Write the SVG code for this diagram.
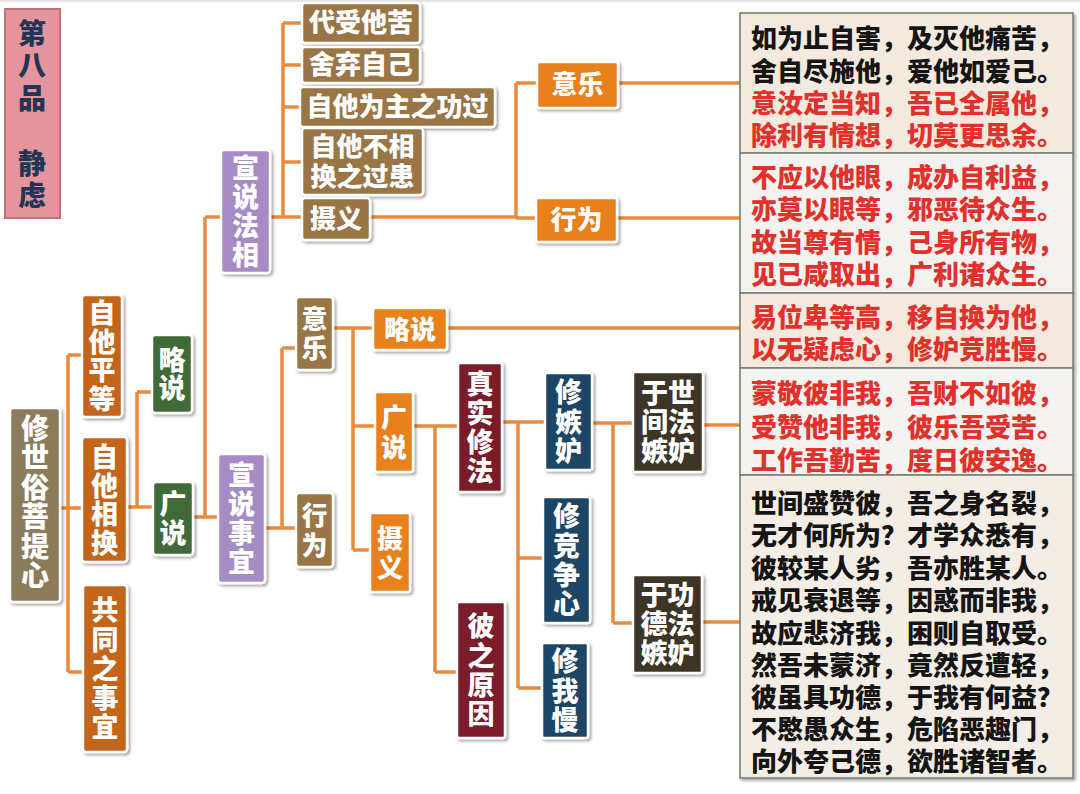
<svg xmlns="http://www.w3.org/2000/svg" width="1080" height="794" viewBox="0 0 1080 794">
<defs>
<filter id="sh" x="-20%" y="-20%" width="150%" height="150%">
<feDropShadow dx="2" dy="2" stdDeviation="1.8" flood-color="#000" flood-opacity="0.35"/>
</filter>
<style>
.n{stroke:#fff;stroke-width:2.5;filter:url(#sh)}
.t{font-family:"Noto Sans CJK SC","Noto Sans CJK JP",sans-serif;font-weight:900;font-size:27px;fill:#fff;text-anchor:middle}
.lf{font-family:"Liberation Sans","Noto Sans CJK SC",sans-serif}
.v{writing-mode:vertical-rl;text-anchor:start;letter-spacing:2px}
.h{font-size:26px}
.c{fill:none;stroke:#e98a3c;stroke-width:3.5;stroke-linejoin:round}
.p{stroke:#76826f;stroke-width:1.6}
.pt{font-family:"Liberation Sans","Noto Sans CJK SC",sans-serif;font-weight:900;font-size:26px}
.r{fill:#e2302a}
.k{fill:#151515}
.ol{fill:#8c7b5c}.bo{fill:#c4651c}.gr{fill:#3f6b38}.pu{fill:#a78bc5}.br{fill:#9a7646}.or{fill:#e8801e}.ma{fill:#7b1c2b}.nv{fill:#1d4566}.db{fill:#3e3627}
</style>
</defs>
<rect width="1080" height="794" fill="#fff"/>
<rect width="1080" height="2" fill="#e4e4e4"/>

<g id="connectors">
<path class="c" d="M60 508H68M68 355V672M68 355H82M68 508H82M68 672H83"/>
<path class="c" d="M127 507H137M137 392V507M137 392H152M137 507H153"/>
<path class="c" d="M193 517H205M205 217V517M205 217H221M205 517H218"/>
<path class="c" d="M270 217H283M283 23V217M283 23H302M283 65H302M283 107H300M283 162H302M283 217H302"/>
<path class="c" d="M370 217H516M516 83V218M516 83H537M516 218H536"/>
<path class="c" d="M618 83H740M617 218H740"/>
<path class="c" d="M265 528H282M282 348V528M282 348H296M282 528H296"/>
<path class="c" d="M333 328H353M353 328V550M353 328H373M353 426H375M353 550H370"/>
<path class="c" d="M447 328H740"/>
<path class="c" d="M413 426H458M435 426V672M435 672H457"/>
<path class="c" d="M502 422H545M518 422V688M518 558H543M518 688H542"/>
<path class="c" d="M592 423H633M613 423V623M613 623H633"/>
<path class="c" d="M703 425H740M702 622H740"/>
</g>

<g id="title">
<rect x="5" y="9" width="55" height="209" fill="#e6949c" stroke="#c8707a" stroke-width="2"/>
<text class="t v" style="fill:#213657;font-size:28px;letter-spacing:4.5px" x="32" y="19">第八品　静虑</text>
</g>

<g id="n-root"><rect class="n ol" x="10" y="408" width="50" height="194" rx="3"/>
<text class="t v" style="font-size:28px;letter-spacing:1.5px" x="35" y="414">修世俗菩提心</text></g>

<g id="n-zitapingdeng"><rect class="n bo" x="82" y="295" width="40" height="122" rx="3"/>
<text class="t v" style="letter-spacing:1.5px" x="102" y="299.5">自他平等</text></g>

<g id="n-zitaxianghuan"><rect class="n bo" x="82" y="437" width="45" height="125" rx="3"/>
<text class="t v" style="letter-spacing:1.5px" x="104.5" y="443.5">自他相换</text></g>

<g id="n-gongtong"><rect class="n bo" x="83" y="585" width="44" height="167" rx="3"/>
<text class="t v" style="letter-spacing:2.25px" x="105" y="596.5">共同之事宜</text></g>

<g id="n-lueshuo1"><rect class="n gr" x="152" y="335" width="40" height="78" rx="3"/>
<text class="t v" style="letter-spacing:1px" x="172" y="346.5">略说</text></g>

<g id="n-guangshuo1"><rect class="n gr" x="153" y="482" width="40" height="73" rx="3"/>
<text class="t v" x="173" y="490.5">广说</text></g>

<g id="n-faxiang"><rect class="n pu" x="221" y="150" width="49" height="123" rx="3"/>
<text class="t v" x="245.5" y="154.5">宣说法相</text></g>

<g id="n-shiyi"><rect class="n pu" x="218" y="454" width="47" height="129" rx="3"/>
<text class="t v" x="241.5" y="461.5">宣说事宜</text></g>

<g id="n-daishou"><rect class="n br" x="302" y="3" width="118" height="40" rx="3"/>
<text class="t h" x="361" y="32">代受他苦</text></g>
<g id="n-sheqi"><rect class="n br" x="302" y="47" width="118" height="36" rx="3"/>
<text class="t h" x="361" y="74">舍弃自己</text></g>
<g id="n-gongguo"><rect class="n br" x="300" y="87" width="195" height="40" rx="3"/>
<text class="t h" x="397.5" y="116">自他为主之功过</text></g>
<g id="n-guohuan"><rect class="n br" x="302" y="128" width="121" height="67" rx="3"/>
<text class="t h lf" x="362.5" y="156">自他不相</text><text class="t h lf" x="362.5" y="186">换之过患</text></g>
<g id="n-sheyi1"><rect class="n br" x="302" y="198" width="68" height="42" rx="3"/>
<text class="t h" x="336" y="228">摄义</text></g>

<g id="n-yile1"><rect class="n or" x="537" y="62" width="81" height="46" rx="2"/>
<text class="t h" x="577.5" y="94">意乐</text></g>
<g id="n-xingwei1"><rect class="n or" x="536" y="198" width="81" height="44" rx="2"/>
<text class="t h" x="576.5" y="229">行为</text></g>

<g id="n-yile2"><rect class="n br" x="296" y="297" width="37" height="73" rx="3"/>
<text class="t h v" style="letter-spacing:3px" x="314.5" y="306">意乐</text></g>
<g id="n-xingwei2"><rect class="n br" x="296" y="493" width="37" height="74" rx="3"/>
<text class="t h v" style="letter-spacing:4px" x="314.5" y="502">行为</text></g>

<g id="n-lueshuo2"><rect class="n or" x="373" y="308" width="74" height="42" rx="2"/>
<text class="t h" x="410" y="339">略说</text></g>
<g id="n-guangshuo2"><rect class="n or" x="375" y="392" width="38" height="80" rx="2"/>
<text class="t h v" style="letter-spacing:4px" x="394" y="404">广说</text></g>
<g id="n-sheyi2"><rect class="n or" x="370" y="513" width="40" height="79" rx="2"/>
<text class="t h v" style="letter-spacing:3px" x="390" y="525">摄义</text></g>

<g id="n-zhenshi"><rect class="n ma" x="458" y="363" width="44" height="129" rx="2"/>
<text class="t v" x="480" y="370.5">真实修法</text></g>
<g id="n-yuanyin"><rect class="n ma" x="457" y="602" width="48" height="136" rx="2"/>
<text class="t v" style="letter-spacing:2.3px" x="481" y="612.5">彼之原因</text></g>

<g id="n-jidu"><rect class="n nv" x="545" y="373" width="47" height="97" rx="2"/>
<text class="t v" style="letter-spacing:2.5px" x="568.5" y="378.5">修嫉妒</text></g>
<g id="n-jingzheng"><rect class="n nv" x="543" y="497" width="47" height="126" rx="2"/>
<text class="t v" style="letter-spacing:2.3px" x="566.5" y="502.5">修竞争心</text></g>
<g id="n-woman"><rect class="n nv" x="542" y="643" width="46" height="95" rx="2"/>
<text class="t v" style="letter-spacing:2.5px" x="565" y="647.5">修我慢</text></g>

<g id="n-shijian"><rect class="n db" x="633" y="372" width="70" height="100" rx="2"/>
<text class="t lf" x="668" y="403">于世</text><text class="t lf" x="668" y="432">间法</text><text class="t lf" x="668" y="461">嫉妒</text></g>
<g id="n-gongde"><rect class="n db" x="633" y="575" width="69" height="98" rx="2"/>
<text class="t lf" x="667.5" y="605">于功</text><text class="t lf" x="667.5" y="634">德法</text><text class="t lf" x="667.5" y="663">嫉妒</text></g>

<g id="panel" filter="url(#sh)">
<rect class="p" x="740" y="13" width="333" height="140" fill="#f3e9df"/>
<rect class="p" x="740" y="153" width="333" height="140" fill="#f4f2f0"/>
<rect class="p" x="740" y="293" width="333" height="75" fill="#f4e8df"/>
<rect class="p" x="740" y="368" width="333" height="107" fill="#f5f3f1"/>
<rect class="p" x="740" y="475" width="333" height="303" fill="#f3ede5"/>
</g>
<g id="panel-text" class="pt">
<text class="k" x="751" y="48">如为止自害，及灭他痛苦，</text>
<text class="k" x="751" y="81">舍自尽施他，爱他如爱己。</text>
<text class="r" x="751" y="113">意汝定当知，吾已全属他，</text>
<text class="r" x="751" y="145">除利有情想，切莫更思余。</text>
<text class="r" x="751" y="187">不应以他眼，成办自利益，</text>
<text class="r" x="751" y="219">亦莫以眼等，邪恶待众生。</text>
<text class="r" x="751" y="252">故当尊有情，己身所有物，</text>
<text class="r" x="751" y="284">见已咸取出，广利诸众生。</text>
<text class="r" x="751" y="327">易位卑等高，移自换为他，</text>
<text class="r" x="751" y="359">以无疑虑心，修妒竞胜慢。</text>
<text class="r" x="751" y="403">蒙敬彼非我，吾财不如彼，</text>
<text class="r" x="751" y="437">受赞他非我，彼乐吾受苦。</text>
<text class="r" x="751" y="470">工作吾勤苦，度日彼安逸。</text>
<text class="k" x="751" y="513">世间盛赞彼，吾之身名裂，</text>
<text class="k" x="751" y="545">无才何所为？才学众悉有，</text>
<text class="k" x="751" y="578">彼较某人劣，吾亦胜某人。</text>
<text class="k" x="751" y="610">戒见衰退等，因惑而非我，</text>
<text class="k" x="751" y="643">故应悲济我，困则自取受。</text>
<text class="k" x="751" y="675">然吾未蒙济，竟然反遭轻，</text>
<text class="k" x="751" y="707">彼虽具功德，于我有何益？</text>
<text class="k" x="751" y="739">不愍愚众生，危陷恶趣门，</text>
<text class="k" x="751" y="771">向外夸己德，欲胜诸智者。</text>
</g>
</svg>
